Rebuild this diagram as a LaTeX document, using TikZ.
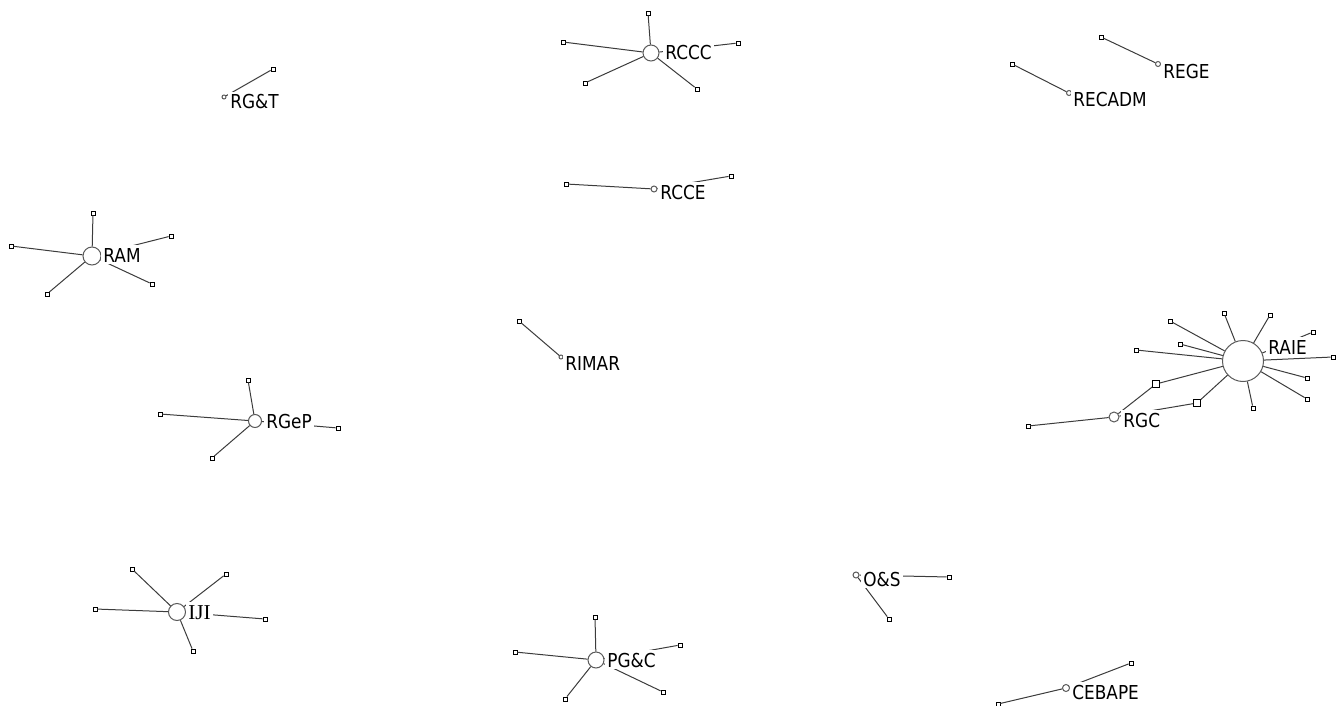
\documentclass[tikz,border=0pt]{standalone}
\usepackage{fontspec}
\newfontfamily\tagfont[FakeStretch=0.88]{DejaVu Sans}
\newfontfamily\tagserif{Liberation Serif}
\usetikzlibrary{positioning}
\definecolor{edgegray}{RGB}{60,60,60}
\definecolor{rimgray}{RGB}{90,90,90}

\begin{document}
\begin{tikzpicture}[x=0.5pt, y=-0.5pt,
    actor/.style={draw=black, fill=white, rectangle, inner sep=0pt, minimum size=2pt, line width=0.4pt},
    bridge/.style={actor, minimum size=3.5pt},
    journal/.style={draw=rimgray, fill=white, circle, inner sep=0pt, line width=0.5pt},
    tie/.style={draw=edgegray, line width=0.5pt},
    tag/.style={fill=white, anchor=base west, inner xsep=1pt, inner ysep=0pt,
                text height=8.5pt, text depth=1pt, font=\tagfont\fontsize{9.6}{11}\selectfont}]
    \useasboundingbox (0,0) rectangle (1343,706);

    % Journals
    \node[journal, minimum size=20.5pt] (raie) at (1243,361) {};
    \node[journal, minimum size=5pt] (rgc) at (1114,417) {};
    \node[journal, minimum size=8pt] (rccc) at (651,53) {};
    \node[journal, minimum size=9pt] (ram) at (92,256) {};
    \node[journal, minimum size=8.5pt] (iji) at (177,612) {};
    \node[journal, minimum size=8pt] (pgc) at (596,660) {};
    \node[journal, minimum size=3pt] (os) at (856,575) {};
    \node[journal, minimum size=3.5pt] (cebape) at (1066,688) {};
    \node[journal, minimum size=6.5pt] (rgep) at (255,421) {};
    \node[journal, minimum size=2.5pt] (rege) at (1158,64) {};
    \node[journal, minimum size=2.5pt] (recadm) at (1069,93) {};
    \node[journal, minimum size=2pt] (rgt) at (224,97) {};
    \node[journal, minimum size=3pt] (rcce) at (654,189) {};
    \node[journal, minimum size=2pt] (rimar) at (561,357) {};

    % Authors around RAIE
    \node[actor] (raie1) at (1170,321) {};
    \node[actor] (raie2) at (1224,313) {};
    \node[actor] (raie3) at (1270,315) {};
    \node[actor] (raie4) at (1313,332) {};
    \node[actor] (raie5) at (1136,350) {};
    \node[actor] (raie6) at (1180,344) {};
    \node[actor] (raie7) at (1333,357) {};
    \node[actor] (raie8) at (1307,378) {};
    \node[actor] (raie9) at (1307,399) {};
    \node[actor] (raie10) at (1253,408) {};
    \node[bridge] (link1) at (1156,384) {};
    \node[bridge] (link2) at (1197,403) {};
    \node[actor] (rgc1) at (1028,426) {};

    % Authors around RCCC
    \node[actor] (rccc1) at (648,13) {};
    \node[actor] (rccc2) at (563,42) {};
    \node[actor] (rccc3) at (738,43) {};
    \node[actor] (rccc4) at (585,83) {};
    \node[actor] (rccc5) at (697,89) {};

    % Authors around RAM
    \node[actor] (ram1) at (93,213) {};
    \node[actor] (ram2) at (11,246) {};
    \node[actor] (ram3) at (171,236) {};
    \node[actor] (ram4) at (47,294) {};
    \node[actor] (ram5) at (152,284) {};

    % Authors around IJI
    \node[actor] (iji1) at (132,569) {};
    \node[actor] (iji2) at (226,574) {};
    \node[actor] (iji3) at (95,609) {};
    \node[actor] (iji4) at (265,619) {};
    \node[actor] (iji5) at (193,651) {};

    % Authors around PG&C
    \node[actor] (pgc1) at (595,617) {};
    \node[actor] (pgc2) at (515,652) {};
    \node[actor] (pgc3) at (680,645) {};
    \node[actor] (pgc4) at (565,699) {};
    \node[actor] (pgc5) at (663,692) {};

    % Authors around RGeP
    \node[actor] (rgep1) at (248,380) {};
    \node[actor] (rgep2) at (160,414) {};
    \node[actor] (rgep3) at (338,428) {};
    \node[actor] (rgep4) at (212,458) {};

    % Smaller groups
    \node[actor] (os1) at (949,577) {};
    \node[actor] (os2) at (889,619) {};
    \node[actor] (cebape1) at (998,704) {};
    \node[actor] (cebape2) at (1131,663) {};
    \node[actor] (rege1) at (1101,37) {};
    \node[actor] (recadm1) at (1012,64) {};
    \node[actor] (rgt1) at (273,69) {};
    \node[actor] (rcce1) at (566,184) {};
    \node[actor] (rcce2) at (731,176) {};
    \node[actor] (rimar1) at (519,321) {};

    % Ties
    \draw[tie] (raie) -- (raie1);
    \draw[tie] (raie) -- (raie2);
    \draw[tie] (raie) -- (raie3);
    \draw[tie] (raie) -- (raie4);
    \draw[tie] (raie) -- (raie5);
    \draw[tie] (raie) -- (raie6);
    \draw[tie] (raie) -- (raie7);
    \draw[tie] (raie) -- (raie8);
    \draw[tie] (raie) -- (raie9);
    \draw[tie] (raie) -- (raie10);
    \draw[tie] (raie) -- (link1) -- (rgc);
    \draw[tie] (raie) -- (link2) -- (rgc);
    \draw[tie] (rgc) -- (rgc1);

    \draw[tie] (rccc) -- (rccc1);
    \draw[tie] (rccc) -- (rccc2);
    \draw[tie] (rccc) -- (rccc3);
    \draw[tie] (rccc) -- (rccc4);
    \draw[tie] (rccc) -- (rccc5);

    \draw[tie] (ram) -- (ram1);
    \draw[tie] (ram) -- (ram2);
    \draw[tie] (ram) -- (ram3);
    \draw[tie] (ram) -- (ram4);
    \draw[tie] (ram) -- (ram5);

    \draw[tie] (iji) -- (iji1);
    \draw[tie] (iji) -- (iji2);
    \draw[tie] (iji) -- (iji3);
    \draw[tie] (iji) -- (iji4);
    \draw[tie] (iji) -- (iji5);

    \draw[tie] (pgc) -- (pgc1);
    \draw[tie] (pgc) -- (pgc2);
    \draw[tie] (pgc) -- (pgc3);
    \draw[tie] (pgc) -- (pgc4);
    \draw[tie] (pgc) -- (pgc5);

    \draw[tie] (rgep) -- (rgep1);
    \draw[tie] (rgep) -- (rgep2);
    \draw[tie] (rgep) -- (rgep3);
    \draw[tie] (rgep) -- (rgep4);

    \draw[tie] (os) -- (os1);
    \draw[tie] (os) -- (os2);
    \draw[tie] (cebape) -- (cebape1);
    \draw[tie] (cebape) -- (cebape2);
    \draw[tie] (rege) -- (rege1);
    \draw[tie] (recadm) -- (recadm1);
    \draw[tie] (rgt) -- (rgt1);
    \draw[tie] (rcce) -- (rcce1);
    \draw[tie] (rcce) -- (rcce2);
    \draw[tie] (rimar) -- (rimar1);

    % Labels
    \node[tag] (raietag) at (1266,354) {RAIE};
    \node[tag] (rgctag) at (1121,427) {RGC};
    \node[tag] (reccctag) at (663,60) {RCCC};
    \node[tag] (ramtag) at (101,262) {RAM};
    \node[tag, font=\tagserif\fontsize{10.6}{12}\selectfont] (ijitag) at (186,619) {IJI};
    \node[tag] (pgctag) at (605,667) {PG\&C};
    \node[tag] (ostag) at (861,586) {O\&S};
    \node[tag] (cebapetag) at (1070,699) {CEBAPE};
    \node[tag] (rgeptag) at (264,428) {RGeP};
    \node[tag] (regetag) at (1161,79) {REGE};
    \node[tag] (recadmtag) at (1071,107) {RECADM};
    \node[tag] (rgttag) at (228,109) {RG\&T};
    \node[tag] (rccetag) at (658,199) {RCCE};
    \node[tag] (rimartag) at (563,370) {RIMAR};
\end{tikzpicture}
\end{document}
